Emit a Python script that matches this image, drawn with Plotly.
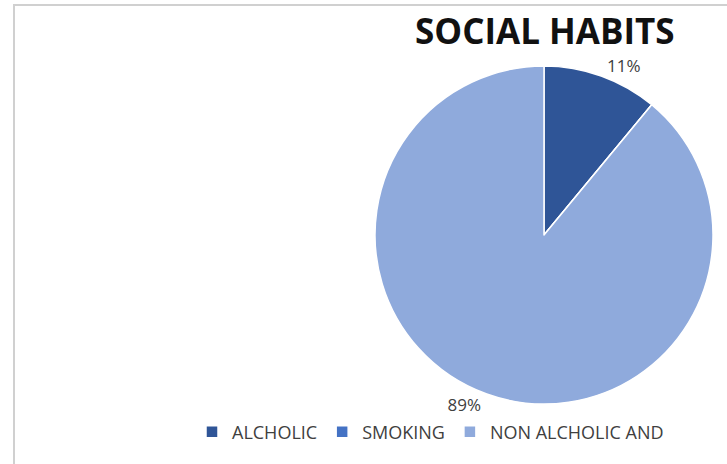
import plotly.graph_objects as go

labels = ["ALCHOLIC", "SMOKING", "NON ALCHOLIC AND"]
values = [11, 0, 89]
pct_text = ["11%", "", "89%"]
colors = ["#2F5597", "#4472C4", "#8FAADC"]

W, H = 727, 464
cx, cy, r = 544, 235, 169

fig = go.Figure(go.Pie(
    labels=labels,
    values=values,
    text=pct_text,
    textinfo="text",
    textposition="outside",
    sort=False,
    direction="clockwise",
    rotation=0,
    marker=dict(colors=colors, line=dict(color="white", width=1.5)),
    textfont=dict(family="Open Sans", size=17, color="#404040"),
    domain=dict(x=[(cx - r) / W, (cx + r) / W], y=[1 - (cy + r) / H, 1 - (cy - r) / H]),
    showlegend=True,
    hoverinfo="label+percent",
))

fig.update_layout(
    width=W, height=H,
    margin=dict(l=0, r=0, t=0, b=0),
    paper_bgcolor="white",
    plot_bgcolor="white",
    annotations=[dict(
        text="<b>SOCIAL HABITS</b>", x=545 / W, y=1 - 31 / H,
        xref="paper", yref="paper",
        showarrow=False, xanchor="center", yanchor="middle",
        font=dict(family="Open Sans", size=35, color="#111111"),
    )],
    legend=dict(
        orientation="h", x=192 / W, y=1 - 432 / H,
        xanchor="left", yanchor="middle",
        font=dict(family="Open Sans", size=18, color="#404040"),
        itemwidth=30, traceorder="normal",
        bgcolor="rgba(0,0,0,0)",
    ),
    shapes=[dict(
        type="rect", xref="paper", yref="paper",
        x0=14 / W, x1=1.2, y0=-0.2, y1=1 - 5 / H,
        line=dict(color="#D0D0D0", width=2), layer="below",
    )],
)

fig.write_html("out.html", config={"displayModeBar": False},
               post_script="document.body.style.margin='0px';")
